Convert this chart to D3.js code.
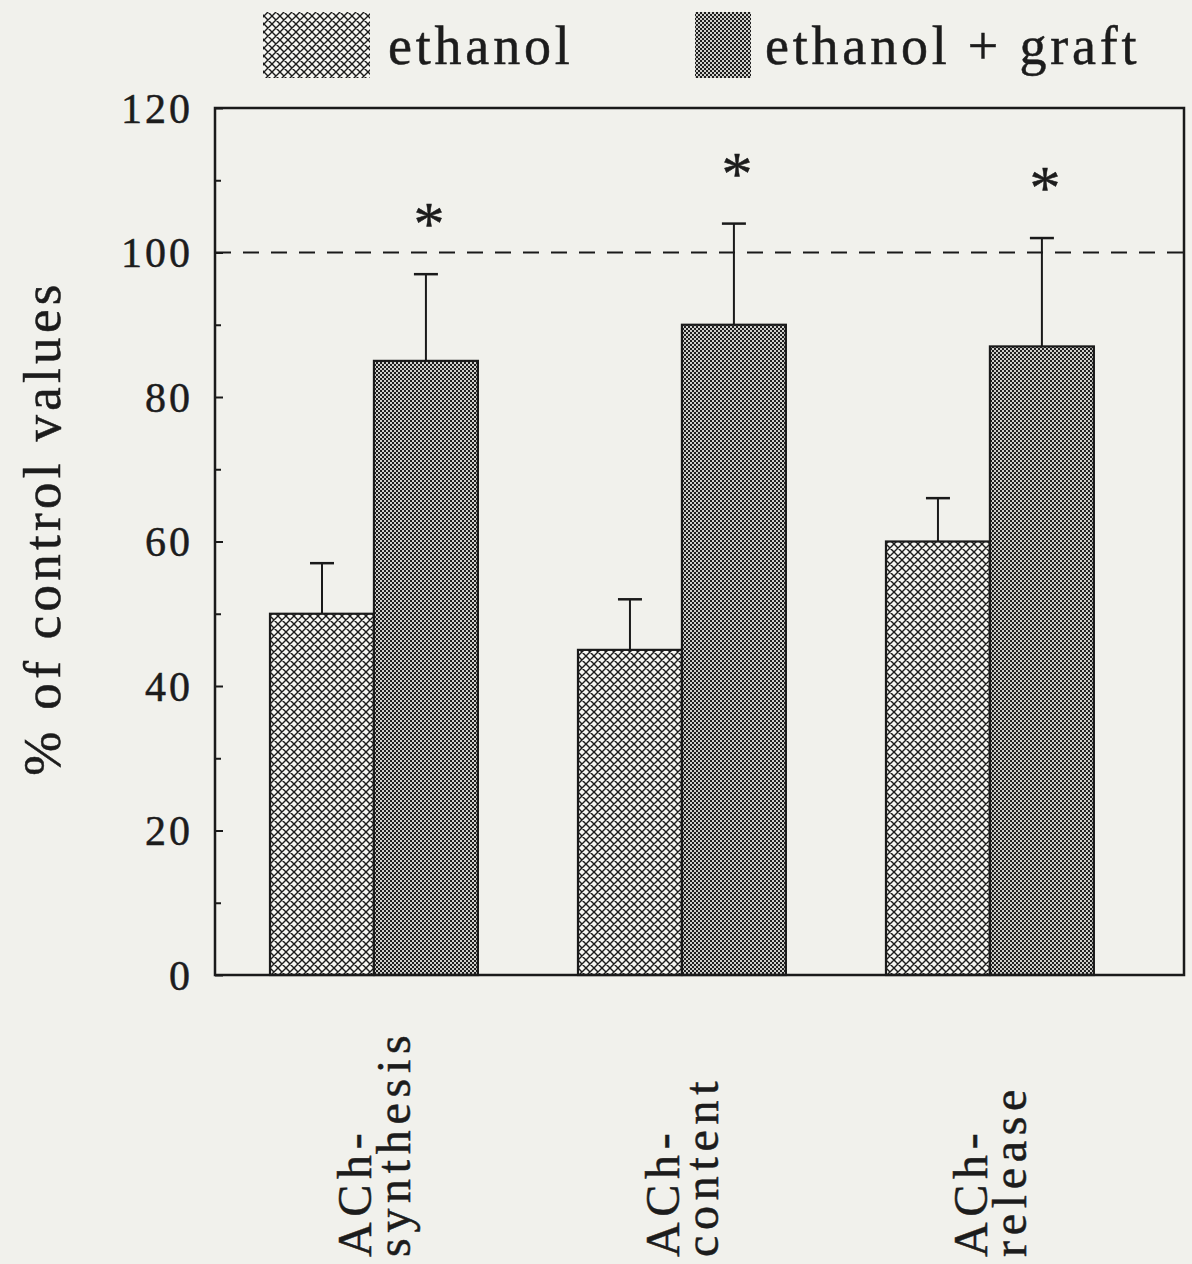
<!DOCTYPE html>
<html>
<head>
<meta charset="utf-8">
<script src="https://cdn.jsdelivr.net/npm/d3@7"></script>
<style>
  html, body { margin: 0; padding: 0; background: #f1f1ec; }
  svg { display: block; }
  text { font-family: "Liberation Serif", "DejaVu Serif", serif; fill: #1c1c1c; stroke: #1c1c1c; stroke-width: 0.5; }
</style>
</head>
<body>
<svg id="chart" width="1192" height="1264"></svg>
<script>
// Measures (two lines each, drawn rotated under the axis)
const categories = ["synthesis", "content", "release"];
const categoryLines = [["ACh-", "synthesis"], ["ACh-", "content"], ["ACh-", "release"]];
const seriesNames = ["ethanol", "ethanol + graft"];
// Mean values, % of control
const ethanolValues = [50, 45, 60];
const graftValues = [85, 90, 87];
// Upper end of the error bars
const ethanolErrTop = [57, 52, 66];
const graftErrTop = [97, 104, 102];
// Significance marks above the graft bars
const significant = [true, true, true];
const yTicks = [0, 20, 40, 60, 80, 100, 120];
const yMinorTicks = [10, 30, 50, 70, 90, 110];
const referenceLine = 100;

const svg = d3.select("#chart");
const margin = { left: 215, top: 108, right: 1184, bottom: 975 };

const y = d3.scaleLinear().domain([0, 120]).range([margin.bottom, margin.top]);
const x0 = d3.scaleBand().domain(categories).range([margin.left, margin.right])
  .paddingInner(0.325).paddingOuter(0.2356).align(0.379);
const x1 = d3.scaleBand().domain(seriesNames).range([0, x0.bandwidth()]).padding(0);

// Fill patterns
const defs = svg.append("defs");
const p1 = defs.append("pattern").attr("id", "patEthanol")
  .attr("patternUnits", "userSpaceOnUse").attr("width", 8).attr("height", 8);
p1.append("rect").attr("width", 8).attr("height", 8).attr("fill", "#f6f6f2");
p1.append("path").attr("d", "M-2,2 L2,-2 M0,8 L8,0 M6,10 L10,6 M-2,6 L2,10 M0,0 L8,8 M6,-2 L10,2")
  .attr("stroke", "#1a1a1a").attr("stroke-width", 1.4);

const p2 = defs.append("pattern").attr("id", "patGraft")
  .attr("patternUnits", "userSpaceOnUse").attr("width", 4).attr("height", 4);
p2.append("rect").attr("width", 4).attr("height", 4).attr("fill", "#d0d0cc");
p2.append("rect").attr("x", 0).attr("y", 0).attr("width", 2).attr("height", 2).attr("fill", "#1e1e1e");
p2.append("rect").attr("x", 2).attr("y", 2).attr("width", 2).attr("height", 2).attr("fill", "#1e1e1e");

const fills = { "ethanol": "url(#patEthanol)", "ethanol + graft": "url(#patGraft)" };

// Dashed reference line at 100 %
svg.append("line")
  .attr("x1", margin.left).attr("x2", margin.right)
  .attr("y1", y(referenceLine)).attr("y2", y(referenceLine))
  .attr("stroke", "#1a1a1a").attr("stroke-width", 2)
  .attr("stroke-dasharray", "16,12");

// Bars
const rows = categories.map((c, i) => ({
  cat: c,
  items: [
    { s: seriesNames[0], v: ethanolValues[i], e: ethanolErrTop[i] },
    { s: seriesNames[1], v: graftValues[i], e: graftErrTop[i] }
  ],
  sig: significant[i]
}));

const groups = svg.append("g").selectAll("g").data(rows).join("g")
  .attr("transform", d => `translate(${x0(d.cat)},0)`);

// Error bars
groups.selectAll("g.err").data(d => d.items).join("g").attr("class", "err")
  .each(function(d) {
    const g = d3.select(this);
    const cx = x1(d.s) + x1.bandwidth() / 2;
    g.append("line").attr("x1", cx).attr("x2", cx)
      .attr("y1", y(d.v)).attr("y2", y(d.e))
      .attr("stroke", "#1a1a1a").attr("stroke-width", 2);
    g.append("line").attr("x1", cx - 12).attr("x2", cx + 12)
      .attr("y1", y(d.e)).attr("y2", y(d.e))
      .attr("stroke", "#1a1a1a").attr("stroke-width", 2.5);
  });

groups.selectAll("rect").data(d => d.items).join("rect")
  .attr("x", d => x1(d.s))
  .attr("y", d => y(d.v))
  .attr("width", x1.bandwidth())
  .attr("height", d => y(0) - y(d.v))
  .attr("fill", d => fills[d.s])
  .attr("stroke", "#1a1a1a").attr("stroke-width", 2.2);

// Asterisks
groups.filter(d => d.sig).append("text")
  .attr("x", x1(seriesNames[1]) + x1.bandwidth() / 2 + 3)
  .attr("y", d => y(d.items[1].e) - 30)
  .attr("text-anchor", "middle")
  .attr("font-size", 62)
  .text("*");

// Frame
svg.append("rect")
  .attr("x", margin.left).attr("y", margin.top)
  .attr("width", margin.right - margin.left).attr("height", margin.bottom - margin.top)
  .attr("fill", "none").attr("stroke", "#1a1a1a").attr("stroke-width", 2.5);

// Y axis with inward ticks
const yAxis = d3.axisRight(y).tickValues(yTicks).tickSize(8).tickFormat("");
svg.append("g").attr("transform", `translate(${margin.left},0)`).call(yAxis)
  .call(g => g.select(".domain").remove())
  .call(g => g.selectAll("line").attr("stroke", "#1a1a1a").attr("stroke-width", 2));
svg.append("g").attr("transform", `translate(${margin.left},0)`)
  .call(d3.axisRight(y).tickValues(yMinorTicks).tickSize(6).tickFormat(""))
  .call(g => g.select(".domain").remove())
  .call(g => g.selectAll("line").attr("stroke", "#1a1a1a").attr("stroke-width", 2));

svg.append("g").selectAll("text").data(yTicks).join("text")
  .attr("x", 193).attr("y", d => y(d))
  .attr("dy", "0.35em")
  .attr("text-anchor", "end")
  .attr("font-size", 42)
  .attr("letter-spacing", 3)
  .text(d => d);

// Y axis title
svg.append("text")
  .attr("transform", `translate(60,528) rotate(-90)`)
  .attr("text-anchor", "middle")
  .attr("font-size", 53)
  .attr("letter-spacing", 4.3)
  .text("% of control values");

// Category labels, rotated
const catLabels = svg.append("g").selectAll("g").data(rows).join("g")
  .attr("transform", d => `translate(${x0(d.cat) + x0.bandwidth() / 2 - 3},1257) rotate(-90)`);
catLabels.each(function(d, i) {
  const g = d3.select(this);
  categoryLines[i].forEach((line, j) => {
    g.append("text").attr("x", 0).attr("y", j * 39)
      .attr("text-anchor", "start")
      .attr("font-size", 48)
      .attr("letter-spacing", 5.7)
      .text(line);
  });
});

// Legend
const legendItems = [
  { s: seriesNames[0], x: 263, w: 107, tx: 388 },
  { s: seriesNames[1], x: 695, w: 56, tx: 765 }
];
const legend = svg.append("g");
legend.selectAll("rect").data(legendItems).join("rect")
  .attr("x", d => d.x).attr("y", 12).attr("width", d => d.w).attr("height", 66)
  .attr("fill", d => fills[d.s]);
legend.selectAll("text").data(legendItems).join("text")
  .attr("x", d => d.tx).attr("y", 64)
  .attr("font-size", 54)
  .attr("letter-spacing", 3.8)
  .text(d => d.s);
</script>
</body>
</html>
